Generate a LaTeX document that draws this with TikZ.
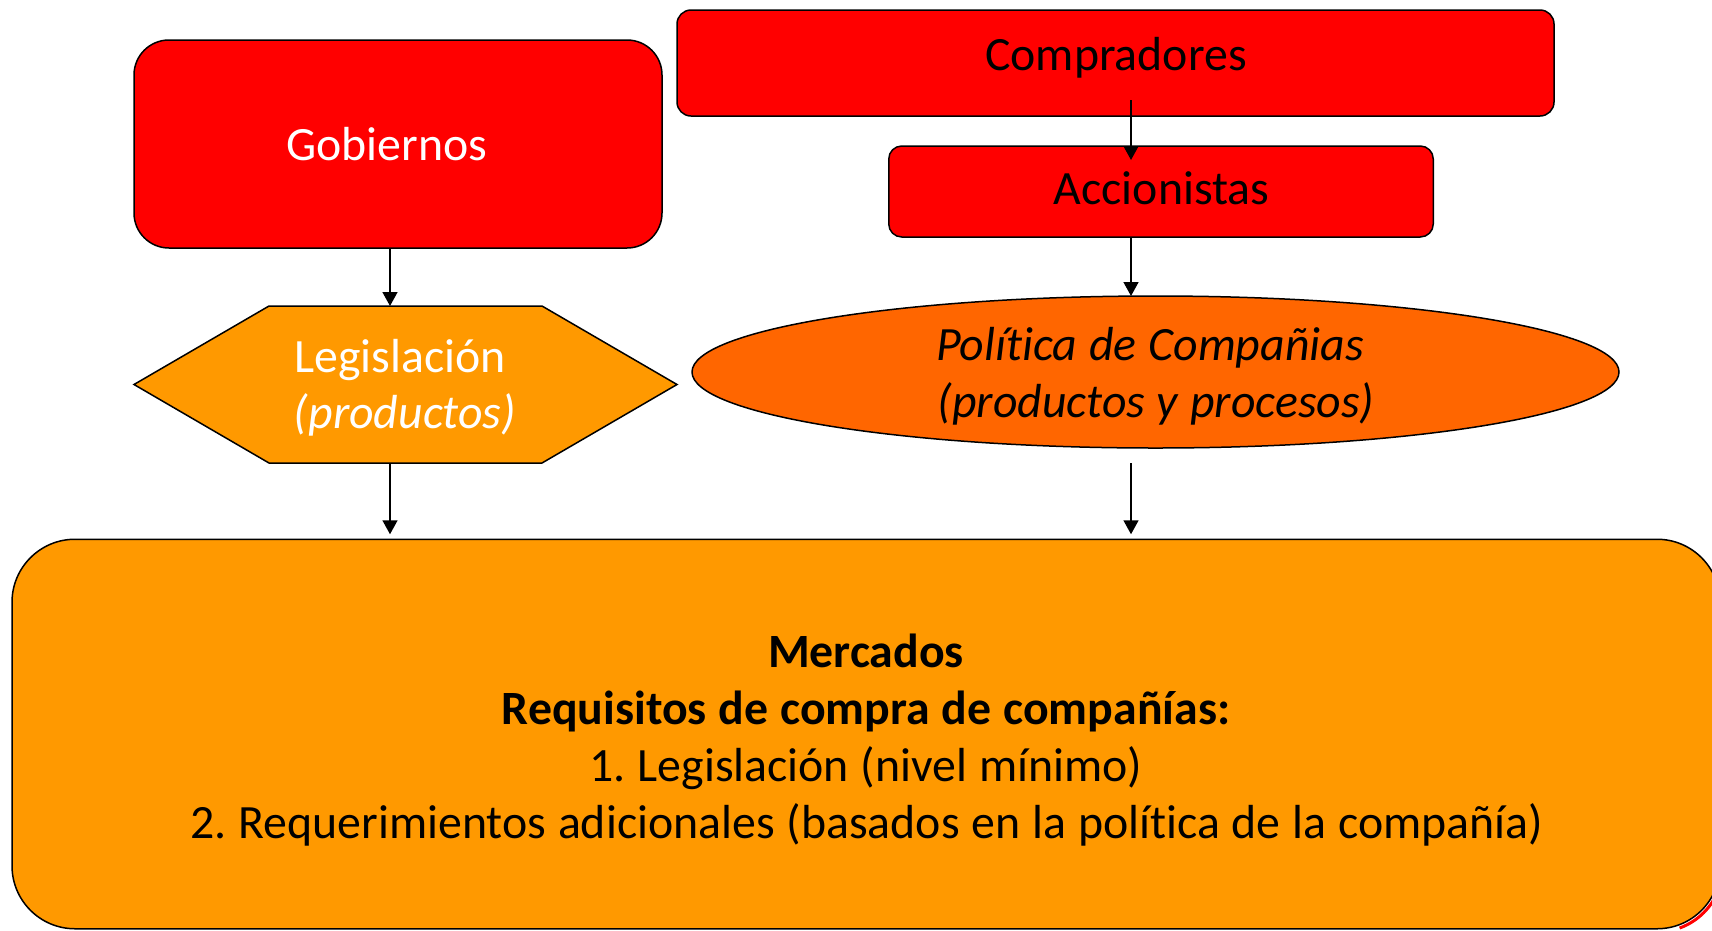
\documentclass[tikz,border=0pt]{standalone}
\usepackage{fontspec}
\setmainfont{Carlito}[Ligatures={NoCommon,NoContextual},Contextuals=NoAlternate,WordSpace=1.1]
\usetikzlibrary{shapes.geometric,arrows.meta,calc}
\definecolor{cred}{HTML}{FF0000}
\definecolor{corange}{HTML}{FF9900}
\definecolor{cdark}{HTML}{FF6600}
\newcommand{\fsz}{\fontsize{47.8}{57}\selectfont}
\frenchspacing
\begin{document}
\begin{tikzpicture}[x=1pt,y=-1pt,
  shapebox/.style={draw=black,line width=1.5pt,inner sep=0pt,outer sep=0pt},
  txt/.style={anchor=base,inner sep=0pt,font=\fsz},
  arr/.style={draw=black,line width=1.5pt,-{Triangle[length=14pt,width=15pt]}}]
\useasboundingbox (0,0) rectangle (1712,930);
\clip (0,0) rectangle (1712,930);
% boxes
\node[shapebox,fill=cred,rounded corners=35pt,minimum width=528pt,minimum height=208pt] (gob) at (398,144) {};
\node[shapebox,fill=cred,rounded corners=14pt,minimum width=877pt,minimum height=106pt] (comp) at (1115.5,63) {};
\node[shapebox,fill=cred,rounded corners=13pt,minimum width=544.5pt,minimum height=91pt] (acc) at (1161,191.5) {};
\node[inner sep=0pt,outer sep=0pt,minimum width=543pt,minimum height=157pt] (leg) at (405.5,384.5) {};
\draw[line width=1.5pt,fill=corange,line join=miter]
  (leg.west) -- ($(leg.north west)+(135,0)$) -- ($(leg.north east)+(-135,0)$) -- (leg.east)
  -- ($(leg.south east)+(-135,0)$) -- ($(leg.south west)+(135,0)$) -- cycle;
\node[shapebox,ellipse,fill=cdark,minimum width=927pt,minimum height=152pt] (pol) at (1155.5,372) {};
% red sliver behind the big box
\draw[cred,line width=3pt] (1657,866) ++(20:66) arc[start angle=20,end angle=70,radius=66];
\node[shapebox,fill=corange,rounded corners=63pt,minimum width=1708pt,minimum height=389.5pt] (mer) at (866,734) {};
% texts
\node[txt,text=white] (tgob) at (387,160) {Gobiernos};
\node[txt] (tcomp) at (1116,70) {Compradores};
\node[txt] (tacc) at (1161.5,204) {Accionistas};
\node[txt,text=white] (tleg1) at (400,372) {Legislación};
\node[txt,text=white] (tleg2) at (405,428) {\itshape (productos)};
\node[txt] (tpol1) at (1150,360) {\itshape Política de Compañias};
\node[txt] (tpol2) at (1156,417) {\itshape (productos y procesos)};
\node[txt] (tm1) at (866,667) {\bfseries Mercados};
\node[txt] (tm2) at (866,724) {\bfseries Requisitos de compra de compañías:};
\node[txt] (tm3) at (866,781) {1. Legislación (nivel mínimo)};
\node[txt] (tm4) at (867,838) {2. Requerimientos adicionales (basados en la política de la compañía)};
% arrows
\coordinate (ax) at (390,0);
\coordinate (bx) at (1131,0);
\draw[arr] (ax |- gob.south) -- (ax |- leg.north);
\draw[arr] (ax |- leg.south) -- ($(ax |- mer.north)+(0,-5)$);
\draw[arr] ($(bx |- comp.south)+(0,-16)$) -- ($(bx |- acc.north)+(0,14)$);
\draw[arr] (bx |- acc.south) -- (bx |- pol.north);
\draw[arr] ($(bx |- pol.south)+(0,15)$) -- ($(bx |- mer.north)+(0,-5)$);
\end{tikzpicture}
\end{document}
